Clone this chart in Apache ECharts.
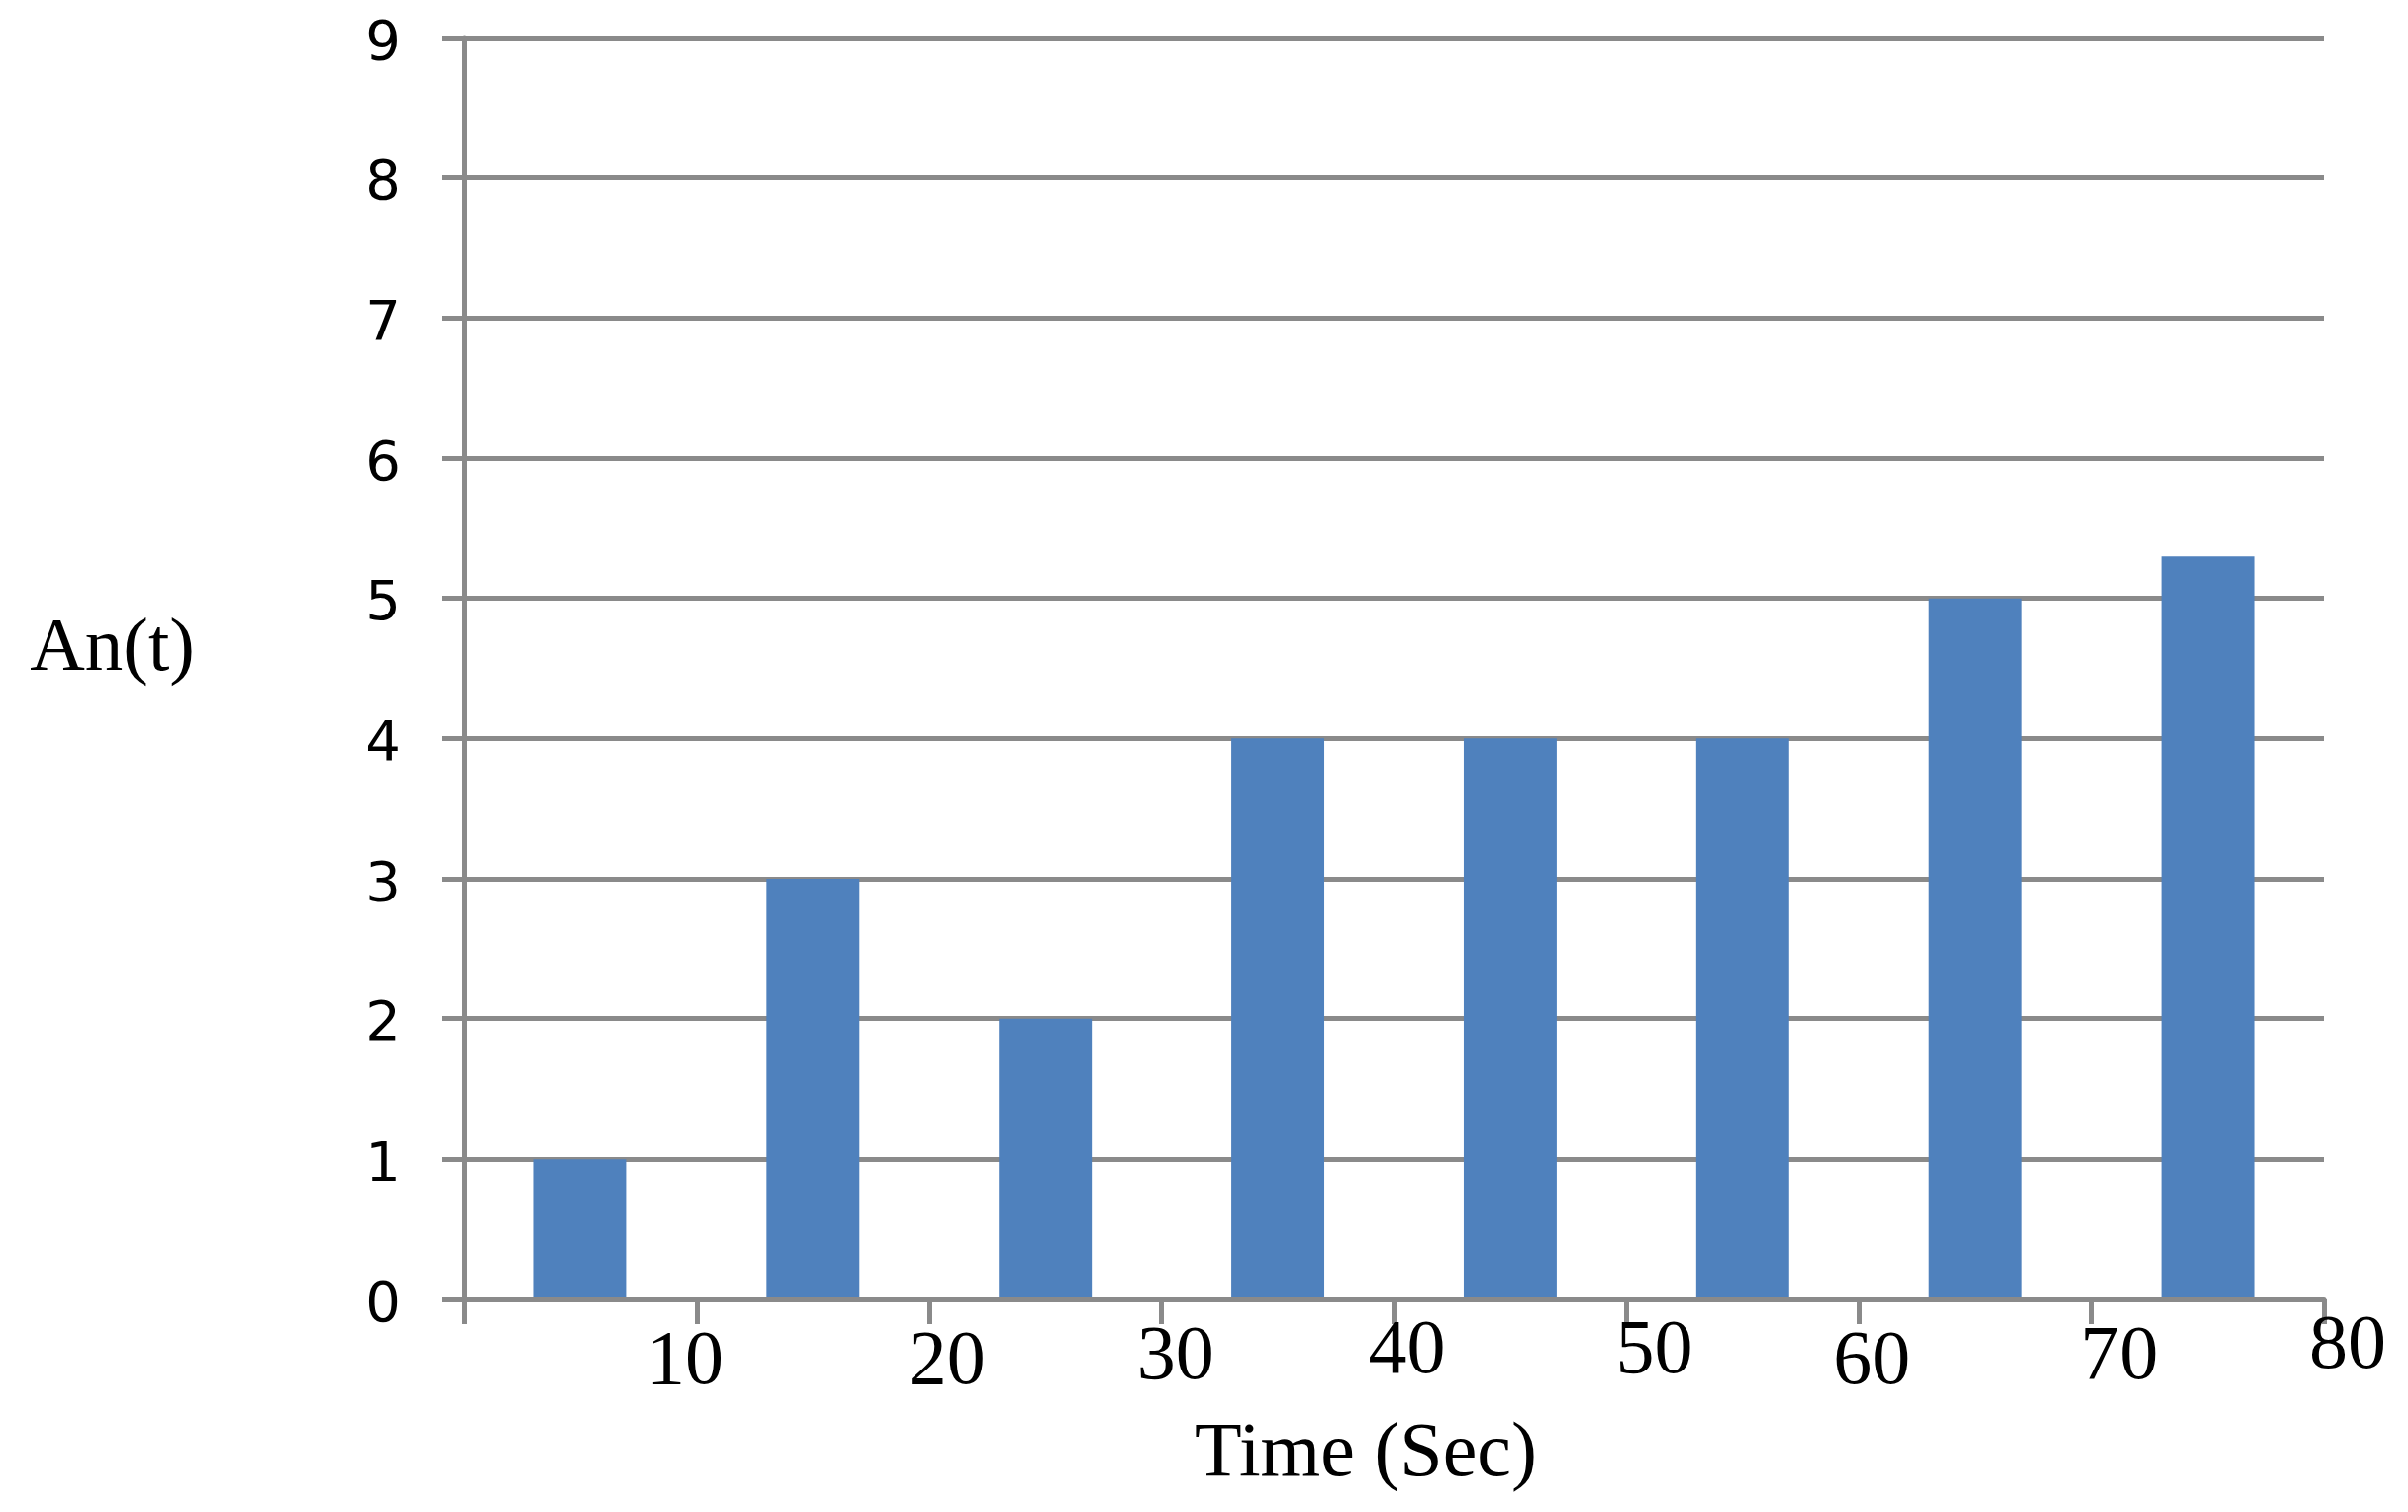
<!DOCTYPE html>
<html>
<head>
<meta charset="utf-8">
<script src="https://cdn.jsdelivr.net/npm/echarts@6/dist/echarts.min.js"></script>
<style>
  html, body { margin: 0; padding: 0; background: #ffffff; }
  #chart { width: 2433px; height: 1528px; }
</style>
</head>
<body>
<div id="chart"></div>
<script>
// ---- data ----
const categories = ['0-10', '10-20', '20-30', '30-40', '40-50', '50-60', '60-70', '70-80'];
const anValues = [1, 3, 2, 4, 4, 4, 5, 5.3];
const tickValues = [0, 10, 20, 30, 40, 50, 60, 70, 80];
const tickLabels = ['', '10', '20', '30', '40', '50', '60', '70', '80'];
const yTicks = [0, 1, 2, 3, 4, 5, 6, 7, 8, 9];
const xTitle = 'Time (Sec)';
const yTitle = 'An(t)';

// ---- styling (label nudges as in the reference: [dx, dy]) ----
const labelNudge = [[0, 0], [-12, 16], [18, 16], [14, 11], [13, 5], [28, 5], [13, 16], [28, 11], [24, 0]];
const AXIS_GRAY = '#8a8a8a';
const rich = {};
labelNudge.forEach(function (n, i) {
  const dx = n[0], dy = n[1];
  rich['p' + i] = {
    fontFamily: 'Liberation Serif',
    fontSize: 78,
    color: '#000000',
    padding: [dy, dx < 0 ? -2 * dx : 0, 0, dx > 0 ? 2 * dx : 0]
  };
});

const chart = echarts.init(document.getElementById('chart'), null, { renderer: 'canvas' });
chart.setOption({
  animation: false,
  backgroundColor: '#ffffff',
  grid: { left: 469, right: 85, top: 38, bottom: 215, containLabel: false },
  xAxis: [
    {
      type: 'value',
      min: tickValues[0],
      max: tickValues[tickValues.length - 1],
      interval: 10,
      z: 5,
      name: xTitle,
      nameLocation: 'middle',
      nameGap: 119,
      nameTextStyle: {
        fontFamily: 'Liberation Serif',
        fontSize: 78,
        color: '#000000',
        padding: [0, 57, 0, 0]
      },
      axisLine: { show: true, lineStyle: { color: AXIS_GRAY, width: 5 } },
      axisTick: { show: true, inside: false, length: 25, lineStyle: { color: AXIS_GRAY, width: 5 } },
      splitLine: { show: false },
      axisLabel: {
        show: true,
        margin: 10,
        verticalAlign: 'top',
        formatter: function (value) {
          const i = tickValues.indexOf(value);
          if (i <= 0) return '';
          return '{p' + i + '|' + tickLabels[i] + '}';
        },
        rich: rich
      }
    },
    {
      type: 'category',
      data: categories,
      boundaryGap: true,
      show: false
    }
  ],
  yAxis: {
    type: 'value',
    min: yTicks[0],
    max: yTicks[yTicks.length - 1],
    interval: 1,
    name: yTitle,
    nameLocation: 'middle',
    nameRotate: 0,
    nameGap: 272,
    nameTextStyle: {
      fontFamily: 'Liberation Serif',
      fontSize: 77,
      color: '#000000',
      align: 'right',
      verticalAlign: 'bottom',
      lineHeight: 37
    },
    axisLine: { show: true, lineStyle: { color: AXIS_GRAY, width: 5 } },
    axisTick: { show: true, inside: false, length: 22, lineStyle: { color: AXIS_GRAY, width: 5 } },
    splitLine: { show: true, lineStyle: { color: AXIS_GRAY, width: 5 } },
    axisLabel: {
      margin: 64,
      fontFamily: 'DejaVu Sans',
      fontSize: 56,
      color: '#000000',
      verticalAlign: 'top',
      padding: [-21, 0, 0, 0]
    }
  },
  series: [
    {
      type: 'bar',
      name: yTitle,
      xAxisIndex: 1,
      data: anValues,
      barCategoryGap: '60%',
      itemStyle: { color: '#4f81bd' },
      z: 2
    }
  ]
});
</script>
</body>
</html>
